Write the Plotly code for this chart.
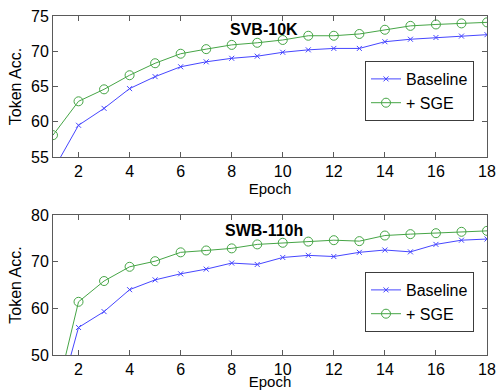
import plotly.graph_objects as go

epochs = list(range(1, 19))

svb_baseline = [53.1, 59.5, 61.9, 64.7, 66.4, 67.8, 68.5, 69.0, 69.3, 69.85, 70.2, 70.4, 70.4, 71.35, 71.7, 71.95, 72.15, 72.35]
svb_sge = [58.1, 62.9, 64.6, 66.6, 68.3, 69.65, 70.3, 70.9, 71.2, 71.6, 72.2, 72.2, 72.45, 73.05, 73.6, 73.8, 73.95, 74.1]

swb_baseline = [36.0, 55.9, 59.3, 64.0, 66.1, 67.4, 68.4, 69.7, 69.4, 70.9, 71.35, 71.1, 72.0, 72.5, 72.1, 73.7, 74.6, 74.85]
swb_sge = [38.6, 61.4, 65.85, 68.9, 70.1, 72.0, 72.4, 72.85, 73.7, 74.05, 74.3, 74.6, 74.4, 75.6, 75.9, 76.1, 76.4, 76.6]

x_ticks = [2, 4, 6, 8, 10, 12, 14, 16, 18]
svb_yticks = [55, 60, 65, 70, 75]
swb_yticks = [50, 60, 70, 80]

BLUE = "rgb(70,70,255)"
GREEN = "rgb(70,165,70)"
FONT = "Liberation Sans, Arial, Helvetica, sans-serif"

W, H = 498, 390

def px(x):
    return x / W

def py(y):
    return 1 - y / H

fig = go.Figure()

def add_pair(base, sge, xa, ya, legend):
    fig.add_trace(go.Scatter(x=epochs, y=base, mode="lines+markers", name="Baseline",
                             line=dict(color=BLUE, width=1),
                             marker=dict(symbol="x-thin", size=5, line=dict(color=BLUE, width=1)),
                             xaxis=xa, yaxis=ya, legend=legend, cliponaxis=True))
    fig.add_trace(go.Scatter(x=epochs, y=sge, mode="lines+markers", name="+ SGE",
                             line=dict(color=GREEN, width=1),
                             marker=dict(symbol="circle-open", size=9, color=GREEN, line=dict(color=GREEN, width=1)),
                             xaxis=xa, yaxis=ya, legend=legend, cliponaxis=True))

add_pair(svb_baseline, svb_sge, "x", "y", "legend")
add_pair(swb_baseline, swb_sge, "x2", "y2", "legend2")

axis_common = dict(showline=True, linecolor="rgb(90,90,90)", linewidth=1, mirror="allticks",
                   ticks="inside", ticklen=5, tickcolor="rgb(90,90,90)", showgrid=False, zeroline=False,
                   automargin=False, tickfont=dict(family=FONT, size=16, color="black"))

x_dom = [px(53), px(487)]
top_dom = [py(157), py(16)]
bot_dom = [py(355), py(215)]

fig.update_layout(
    width=W, height=H,
    margin=dict(l=0, r=0, t=0, b=0),
    paper_bgcolor="white", plot_bgcolor="white",
    font=dict(family=FONT, color="black"),
    xaxis=dict(domain=x_dom, anchor="y", range=[1, 18], tickvals=x_ticks,
               title=dict(text="Epoch", font=dict(size=15), standoff=3), **axis_common),
    yaxis=dict(domain=top_dom, anchor="x", range=[55, 75], tickvals=svb_yticks,
               title=dict(text="Token Acc.", font=dict(size=16), standoff=5), **axis_common),
    xaxis2=dict(domain=x_dom, anchor="y2", range=[1, 18], tickvals=x_ticks,
                title=dict(text="Epoch", font=dict(size=15), standoff=3), **axis_common),
    yaxis2=dict(domain=bot_dom, anchor="x2", range=[50, 80], tickvals=swb_yticks,
                title=dict(text="Token Acc.", font=dict(size=16), standoff=5), **axis_common),
    legend=dict(x=px(474), y=py(61), xanchor="right", yanchor="top",
                bordercolor="rgb(60,60,60)", borderwidth=1, bgcolor="white",
                font=dict(family=FONT, size=16), tracegroupgap=0, itemwidth=30),
    legend2=dict(x=px(474), y=py(272), xanchor="right", yanchor="top",
                 bordercolor="rgb(60,60,60)", borderwidth=1, bgcolor="white",
                 font=dict(family=FONT, size=16), tracegroupgap=0, itemwidth=30),
    annotations=[
        dict(text="<b>SVB-10K</b>", x=px(264), y=py(30), xref="paper", yref="paper",
             xanchor="center", yanchor="middle",
             showarrow=False, font=dict(family=FONT, size=16, color="black")),
        dict(text="<b>SWB-110h</b>", x=px(264), y=py(230), xref="paper", yref="paper",
             xanchor="center", yanchor="middle",
             showarrow=False, font=dict(family=FONT, size=16, color="black")),
    ],
)

fig.write_html("out.html", config={"displayModeBar": False},
               post_script="document.body.style.margin='0';document.body.style.padding='0';document.body.style.overflow='hidden';")
